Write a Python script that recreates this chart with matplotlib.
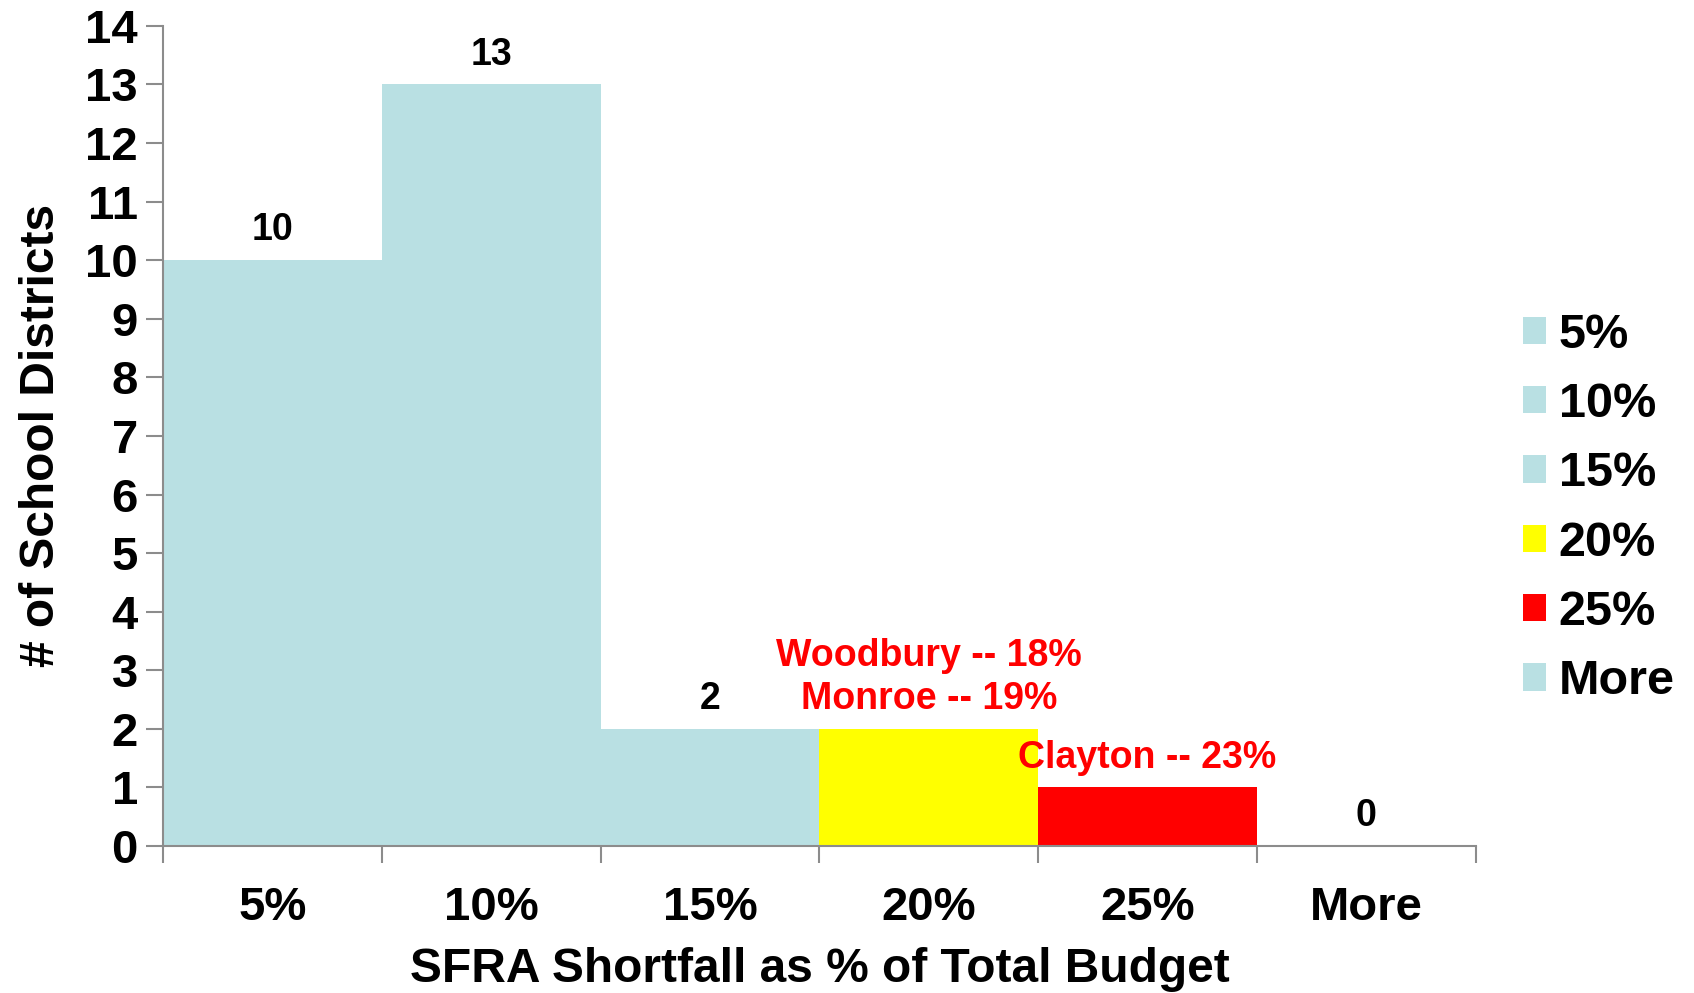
import numpy as np
import matplotlib

matplotlib.use("Agg")
import matplotlib.pyplot as plt
from matplotlib.patches import Patch

plt.rcParams["font.family"] = ["Liberation Sans", "DejaVu Sans"]
plt.rcParams["font.weight"] = "bold"

# histogram bins and counts
bins = ["5%", "10%", "15%", "20%", "25%", "More"]
counts = [10, 13, 2, 2, 1, 0]
bar_colors = ["#B9E0E3", "#B9E0E3", "#B9E0E3", "#FFFF00", "#FF0000", "#B9E0E3"]
show_count = [True, True, True, False, False, True]

# district call-outs: (bin index, height offset, text)
callouts = [
    (3, 0.93, "Woodbury -- 18%"),
    (3, 0.2, "Monroe -- 19%"),
    (4, 0.2, "Clayton -- 23%"),
]

fig = plt.figure(figsize=(16.94, 9.93), dpi=100)
ax = fig.add_axes([0.0962, 0.148, 0.775, 0.826])

x = np.arange(len(bins))
ax.bar(x, counts, width=1.0, color=bar_colors, align="center", linewidth=0)

for i, (c, show) in enumerate(zip(counts, show_count)):
    if show:
        ax.text(i, c + 0.2, str(c), ha="center", va="bottom", fontsize=27, fontweight="bold")

for i, off, txt in callouts:
    ax.text(i, counts[i] + off, txt, ha="center", va="bottom", fontsize=27,
            fontweight="bold", color="#FF0000")

ax.set_xlim(-0.5, len(bins) - 0.5)
ax.set_ylim(0, 14)
ax.set_yticks(range(0, 15))
ax.set_xticks(np.arange(-0.5, len(bins)), minor=False)
ax.set_xticklabels([""] * (len(bins) + 1))
ax.set_xticks(x, minor=True)
ax.set_xticklabels(bins, minor=True)
ax.tick_params(axis="x", which="major", length=12, width=1.5, color="#8C8C8C", direction="out")
ax.tick_params(axis="x", which="minor", length=0, labelsize=34, pad=29)
ax.tick_params(axis="y", length=12, width=1.5, color="#8C8C8C", labelsize=34, pad=6)
for lab in ax.get_xticklabels(minor=True) + ax.get_yticklabels():
    lab.set_fontweight("bold")

for side in ["top", "right"]:
    ax.spines[side].set_visible(False)
for side in ["left", "bottom"]:
    ax.spines[side].set_color("#8C8C8C")
    ax.spines[side].set_linewidth(1.5)

ax.set_xlabel("SFRA Shortfall as % of Total Budget", fontsize=34.5, fontweight="bold", labelpad=12)
ax.set_ylabel("# of School Districts", fontsize=34.5, fontweight="bold", labelpad=15)

handles = [Patch(facecolor=c, edgecolor="none") for c in bar_colors]
fig.legend(handles, bins, loc="center left", bbox_to_anchor=(0.873, 0.488), frameon=False,
           handlelength=0.49, handleheight=0.49, handletextpad=0.25,
           labelspacing=0.5, prop={"weight": "bold", "size": 35})

fig.savefig("out.png", dpi=100)
